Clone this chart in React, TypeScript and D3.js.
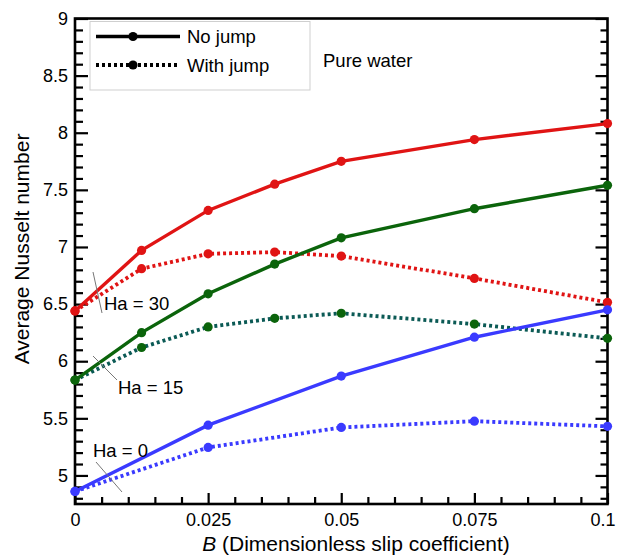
import React, { useEffect, useRef } from 'react';
import * as d3 from 'd3';

// slip coefficient values
const bFine = [0, 0.0125, 0.025, 0.0375, 0.05, 0.075, 0.1];
const bCoarse = [0, 0.025, 0.05, 0.075, 0.1];

// Average Nusselt number
const ha30NoJump = [6.44, 6.97, 7.32, 7.55, 7.75, 7.94, 8.08];
const ha30Jump = [6.44, 6.81, 6.94, 6.955, 6.92, 6.725, 6.515];
const ha15NoJump = [5.835, 6.25, 6.59, 6.85, 7.08, 7.335, 7.54];
const ha15Jump = [5.835, 6.12, 6.3, 6.375, 6.42, 6.325, 6.2];
const ha0NoJump = [4.86, 5.44, 5.87, 6.21, 6.45];
const ha0Jump = [4.86, 5.245, 5.42, 5.475, 5.43];

const xTicks = [0, 0.025, 0.05, 0.075, 0.1];
const yTicks = [5, 5.5, 6, 6.5, 7, 7.5, 8, 8.5, 9];

const series = [
  { xs: bFine, ys: ha30Jump, color: '#e01414', line: '#e01414', dotted: true },
  { xs: bFine, ys: ha15Jump, color: '#0b640b', line: '#0b5a55', dotted: true },
  { xs: bCoarse, ys: ha0Jump, color: '#3a3aff', line: '#3a3aff', dotted: true },
  { xs: bFine, ys: ha30NoJump, color: '#e01414', line: '#e01414', dotted: false },
  { xs: bFine, ys: ha15NoJump, color: '#0b640b', line: '#0b640b', dotted: false },
  { xs: bCoarse, ys: ha0NoJump, color: '#3a3aff', line: '#3a3aff', dotted: false },
];

const FONT = '"Liberation Sans", Arial, Helvetica, sans-serif';

export default function App() {
  const ref = useRef<SVGSVGElement>(null);

  useEffect(() => {
    if (!ref.current) return;
    const width = 619;
    const height = 556;
    const margin = { top: 18.5, right: 11.5, bottom: 52, left: 75 };
    const svg = d3.select(ref.current).attr('width', width).attr('height', height);
    svg.selectAll('*').remove();

    const x = d3.scaleLinear().domain([0, 0.1]).range([margin.left, width - margin.right]);
    const y = d3.scaleLinear().domain([4.75, 9]).range([height - margin.bottom, margin.top]);

    const minorX = d3.range(0, 0.1001, 0.005).filter(v => !xTicks.some(t => Math.abs(t - v) < 1e-9));
    const minorY = d3.range(4.8, 9.001, 0.1).filter(v => !yTicks.some(t => Math.abs(t - v) < 1e-9));

    const style = (g: any, withText: boolean) => {
      g.select('.domain').remove();
      g.selectAll('line').attr('stroke', '#000').attr('stroke-width', 2.2);
      if (withText) {
        g.selectAll('text').attr('fill', '#000').style('font-family', FONT).style('font-size', '18px');
      } else {
        g.selectAll('text').remove();
      }
    };

    const bottom = height - margin.bottom;
    const right = width - margin.right;

    // bottom axis
    svg.append('g').attr('transform', `translate(0,${bottom})`)
      .call(d3.axisBottom(x).tickValues(xTicks).tickSize(-11).tickSizeOuter(0).tickPadding(9).tickFormat(d => String(d)))
      .call(g => style(g, true))
      .call(g => g.selectAll('text').filter((d: any) => d === 0.1).attr('dx', -5)); // keep last label inside the page
    svg.append('g').attr('transform', `translate(0,${bottom})`)
      .call(d3.axisBottom(x).tickValues(minorX).tickSize(-7).tickSizeOuter(0))
      .call(g => style(g, false));

    // left axis
    svg.append('g').attr('transform', `translate(${margin.left},0)`)
      .call(d3.axisLeft(y).tickValues(yTicks).tickSize(-13).tickSizeOuter(0).tickPadding(7).tickFormat(d => String(d)))
      .call(g => style(g, true));
    svg.append('g').attr('transform', `translate(${margin.left},0)`)
      .call(d3.axisLeft(y).tickValues(minorY).tickSize(-8).tickSizeOuter(0))
      .call(g => style(g, false));

    // right axis (mirrored ticks)
    svg.append('g').attr('transform', `translate(${right},0)`)
      .call(d3.axisRight(y).tickValues(yTicks).tickSize(-12).tickSizeOuter(0))
      .call(g => style(g, false));
    svg.append('g').attr('transform', `translate(${right},0)`)
      .call(d3.axisRight(y).tickValues(minorY).tickSize(-7).tickSizeOuter(0))
      .call(g => style(g, false));

    // frame
    svg.append('rect')
      .attr('x', margin.left).attr('y', margin.top)
      .attr('width', right - margin.left).attr('height', bottom - margin.top)
      .attr('fill', 'none').attr('stroke', '#000').attr('stroke-width', 2.6);

    // series
    const line = d3.line<[number, number]>().x(d => x(d[0])).y(d => y(d[1]));
    series.forEach(s => {
      const pts = s.xs.map((v, i) => [v, s.ys[i]] as [number, number]);
      svg.append('path').attr('d', line(pts)!)
        .attr('fill', 'none').attr('stroke', s.line)
        .attr('stroke-width', s.dotted ? 3.8 : 3.4)
        .attr('stroke-dasharray', s.dotted ? '3,3' : null);
      svg.append('g').selectAll('circle').data(pts).join('circle')
        .attr('cx', d => x(d[0])).attr('cy', d => y(d[1]))
        .attr('r', 4.6).attr('fill', s.color);
    });

    // Ha annotations with leader lines
    const notes = [
      { text: 'Ha = 30', tx: 104, ty: 310, l: [93, 272, 102, 313] },
      { text: 'Ha = 15', tx: 118, ty: 394, l: [93, 356, 117, 380] },
      { text: 'Ha = 0', tx: 93, ty: 457, l: [96, 462, 122, 492] },
    ];
    notes.forEach(n => {
      svg.append('line').attr('x1', n.l[0]).attr('y1', n.l[1]).attr('x2', n.l[2]).attr('y2', n.l[3])
        .attr('stroke', '#777').attr('stroke-width', 1);
      svg.append('text').attr('x', n.tx).attr('y', n.ty).text(n.text)
        .style('font-family', FONT).style('font-size', '18.5px');
    });

    svg.append('text').attr('x', 323).attr('y', 67).text('Pure water')
      .style('font-family', FONT).style('font-size', '18.5px');

    // legend
    const lg = svg.append('g');
    lg.append('rect').attr('x', 90).attr('y', 21.5).attr('width', 220).attr('height', 68.5)
      .attr('fill', '#fff').attr('stroke', '#cfcfcf').attr('stroke-width', 1);
    [{ label: 'No jump', dotted: false, cy: 36.5 }, { label: 'With jump', dotted: true, cy: 65 }].forEach(e => {
      lg.append('line').attr('x1', 96).attr('x2', 180).attr('y1', e.cy).attr('y2', e.cy)
        .attr('stroke', '#000').attr('stroke-width', e.dotted ? 3.8 : 3.4)
        .attr('stroke-dasharray', e.dotted ? '3,3' : null);
      lg.append('circle').attr('cx', 133).attr('cy', e.cy).attr('r', 4.6).attr('fill', '#000');
      lg.append('text').attr('x', 187).attr('y', e.cy + 6.5).text(e.label)
        .style('font-family', FONT).style('font-size', '18.5px');
    });

    // axis titles
    const xt = svg.append('text').attr('x', 356).attr('y', 551).attr('text-anchor', 'middle')
      .style('font-family', FONT).style('font-size', '21px');
    xt.append('tspan').style('font-style', 'italic').text('B');
    xt.append('tspan').text(' (Dimensionless slip coefficient)');

    svg.append('text').attr('transform', 'translate(29,249) rotate(-90)').attr('text-anchor', 'middle')
      .style('font-family', FONT).style('font-size', '21px').text('Average Nusselt number');
  }, []);

  return (
    <svg ref={ref} style={{ position: 'absolute', left: 0, top: 0, background: '#fff' }}></svg>
  );
}
